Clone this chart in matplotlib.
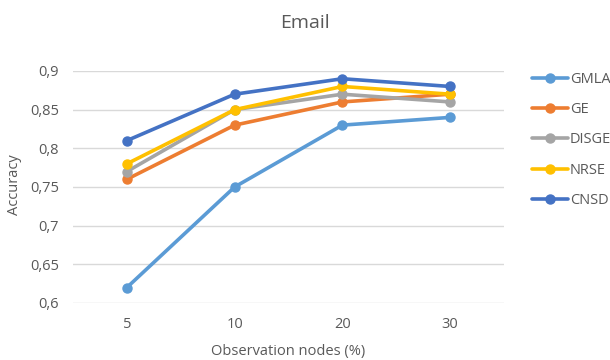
import matplotlib
matplotlib.use("Agg")
import matplotlib.pyplot as plt

plt.rcParams["font.family"] = ["Open Sans", "DejaVu Sans"]

categories = ["5", "10", "20", "30"]
series_names = ["GMLA", "GE", "DISGE", "NRSE", "CNSD"]
gmla = [0.62, 0.75, 0.83, 0.84]
ge = [0.76, 0.83, 0.86, 0.87]
disge = [0.77, 0.85, 0.87, 0.86]
nrse = [0.78, 0.85, 0.88, 0.87]
cnsd = [0.81, 0.87, 0.89, 0.88]
yticks = [0.6, 0.65, 0.7, 0.75, 0.8, 0.85, 0.9]
ytick_labels = ["0,6", "0,65", "0,7", "0,75", "0,8", "0,85", "0,9"]

colors = ["#5B9BD5", "#ED7D31", "#A5A5A5", "#FFC000", "#4472C4"]
txt = "#595959"

fig = plt.figure(figsize=(6.1, 3.6), dpi=100)
ax = fig.add_axes([73 / 610, 1 - 303 / 360, (504 - 73) / 610, (303 - 71) / 360])

x = list(range(len(categories)))
for name, vals, c in zip(series_names, [gmla, ge, disge, nrse, cnsd], colors):
    ax.plot(x, vals, color=c, lw=2.6, marker="o", ms=6.5, label=name,
            solid_capstyle="round")

ax.set_xlim(-0.5, len(categories) - 0.5)
ax.set_ylim(0.6, 0.9)
ax.set_xticks(x)
ax.set_xticklabels(categories)
ax.set_yticks(yticks)
ax.set_yticklabels(ytick_labels)
ax.tick_params(length=0, colors=txt, labelsize=10.5, pad=10)
ax.yaxis.grid(True, color="#D9D9D9", lw=1)
ax.set_axisbelow(True)
for s in ax.spines.values():
    s.set_visible(False)
for ln in ax.lines:
    ln.set_clip_on(False)

fig.text(0.5, 1 - 23 / 360, "Email", ha="center", va="center", fontsize=14, color=txt)
fig.text(15 / 610, 1 - 185 / 360, "Accuracy", rotation=90, ha="center", va="center",
         fontsize=10.5, color=txt)
fig.text(288 / 610, 1 - 351 / 360, "Observation nodes (%)", ha="center", va="center",
         fontsize=10.5, color=txt)

ax.legend(loc="upper left", bbox_to_anchor=(526 / 610, 1 - 66 / 360),
          bbox_transform=fig.transFigure, frameon=False, fontsize=10.5,
          labelcolor=txt, handlelength=2.5, handletextpad=0.1,
          labelspacing=1.05, borderaxespad=0)

fig.savefig("out.png", dpi=100)
